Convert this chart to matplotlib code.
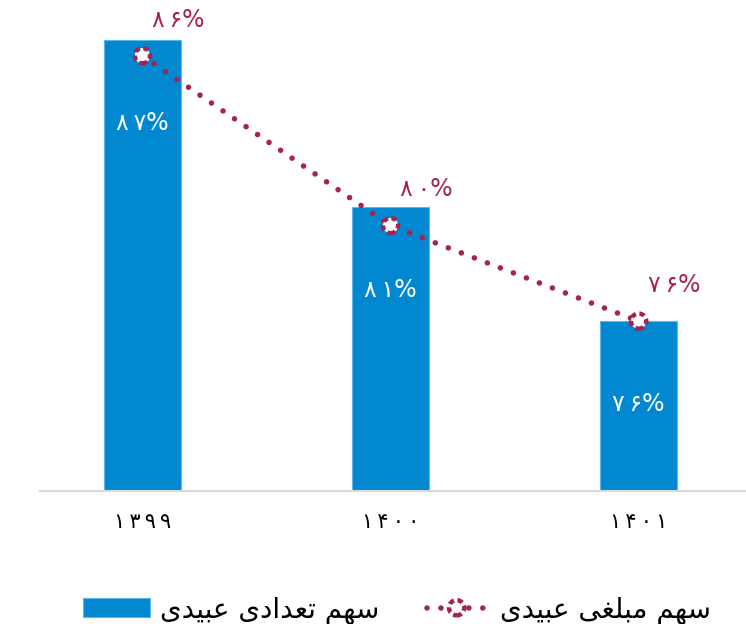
import matplotlib.pyplot as plt
import matplotlib.patches as mpatches
from matplotlib.lines import Line2D
from matplotlib.legend_handler import HandlerBase

# سال‌ها و سهم‌ها (درصد)
years = ["1399", "1400", "1401"]
count_share = [87.0, 80.7, 76.4]    # سهم تعدادی عبیدی
amount_share = [86.4, 80.0, 76.4]   # سهم مبلغی عبیدی

# matplotlib has no Arabic shaping: names written in presentation forms, visual order
label_count = "\uFEEF\uFEAA\uFEF4\uFE92\uFECB \uFEEF\uFEA9\uFE8D\uFEAA\uFECC\uFE97 \uFEE2\uFEEC\uFEB3"
label_amount = "\uFEEF\uFEAA\uFEF4\uFE92\uFECB \uFEF0\uFED0\uFEE0\uFE92\uFEE3 \uFEE2\uFEEC\uFEB3"

BLUE = "#0288D1"
RED = "#A5244F"
DOTS = (0, (0.01, 2.5))
RING = (0, (1.2, 0.8))

fa_digits = str.maketrans("0123456789", "۰۱۲۳۴۵۶۷۸۹")


def fa(s):
    # persian digits, a thin space between glyphs like the original font
    return "\u2009".join(str(s).translate(fa_digits))


class DottedLineHandler(HandlerBase):
    def create_artists(self, legend, orig_handle, xdescent, ydescent,
                       width, height, fontsize, trans):
        cy = -ydescent + height / 2
        ln = Line2D([-xdescent + 3, -xdescent + width - 3], [cy, cy], color=RED,
                    linewidth=4.0, linestyle=DOTS, dash_capstyle="round",
                    transform=trans)
        ring = mpatches.Circle((-xdescent + width / 2, cy), 5.5, facecolor="white",
                               edgecolor=RED, linewidth=3.2, linestyle=RING,
                               transform=trans)
        return [ln, ring]


plt.rcParams['font.family'] = ['DejaVu Sans']

fig = plt.figure(figsize=(7.46, 6.24), dpi=100)
ax = fig.add_axes([40 / 746, 133 / 624, 706 / 746, 491 / 624])

x = list(range(len(years)))
bars = ax.bar(x, count_share, width=0.31, color=BLUE, edgecolor="#5DB6E8",
              linewidth=0.8, zorder=2)

line, = ax.plot(x, amount_share, color=RED, linewidth=4.0,
                linestyle=DOTS, dash_capstyle="round", zorder=3)
ax.scatter(x, amount_share, s=120, facecolor="white", edgecolor=RED,
           linewidths=3.2, linestyle=RING, zorder=4)

for i, v in enumerate(count_share):
    ax.annotate(fa(round(v)) + "%", (i, v), xytext=(0, -60),
                textcoords="offset points", ha="center", va="center",
                color="white", fontsize=17)

for i, v in enumerate(amount_share):
    ax.annotate(fa(round(v)) + "%", (i, v), xytext=(26, 26),
                textcoords="offset points", ha="center", va="center",
                color=RED, fontsize=17)

ax.set_ylim(70, 88.5)
ax.set_xlim(-0.413, 2.433)
ax.set_xticks(x, [fa(y) for y in years], fontsize=15)
ax.tick_params(axis="x", length=0, pad=15)
ax.set_yticks([])
for side in ["top", "right", "left"]:
    ax.spines[side].set_visible(False)
ax.spines["bottom"].set_color("#D9D9D9")
ax.spines["bottom"].set_linewidth(1.5)

fig.legend([bars, line], [label_count, label_amount],
           handler_map={line: DottedLineHandler()},
           loc="center", bbox_to_anchor=(0.532, 0.022), ncol=2, frameon=False,
           fontsize=20, handlelength=2.4, handletextpad=0.35, columnspacing=1.6)

fig.savefig("out.png", dpi=100)
